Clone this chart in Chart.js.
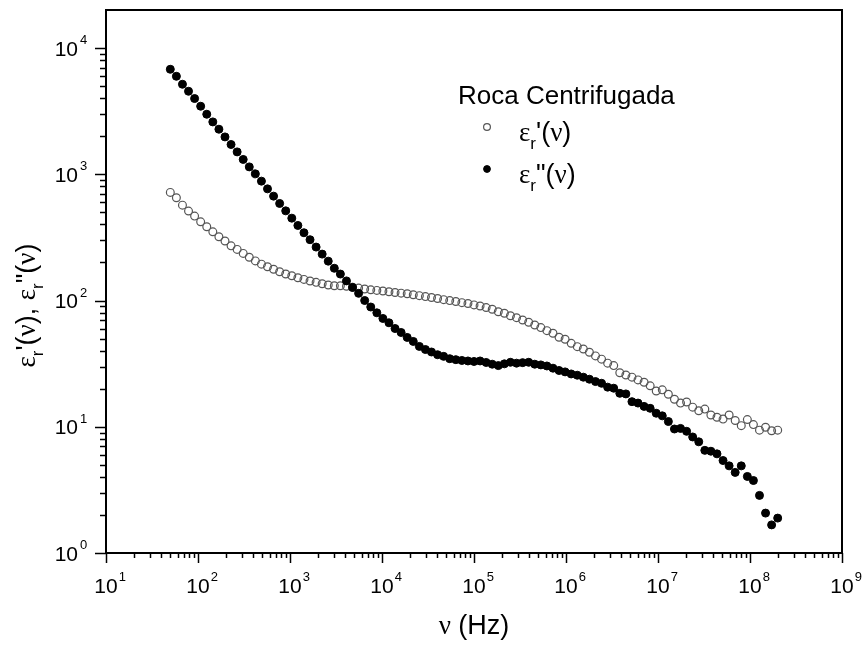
<!DOCTYPE html>
<html>
<head>
<meta charset="utf-8">
<script src="https://cdn.jsdelivr.net/npm/chart.js@4.4.1/dist/chart.umd.min.js"></script>
<style>
  html, body { margin: 0; padding: 0; background: #fff; }
</style>
</head>
<body>
<canvas id="myChart" width="862" height="645"></canvas>
<script>
var freqs = [
  50, 58.23, 67.77, 78.89, 91.84, 106.9, 124.5, 144.9, 168.7, 196.5,
  228.7, 266.3, 310.0, 360.9, 420.2, 489.2, 569.5, 663.0, 771.9, 898.7,
  1046, 1218, 1418, 1651, 1922, 2237, 2604, 3032, 3529, 4109,
  4784, 5569, 6484, 7548, 8788, 10226, 11905, 13861, 16137, 18787,
  21872, 25465, 29646, 34515, 40184, 46783, 54466, 63410, 73823, 85947,
  1.000e5, 1.164e5, 1.355e5, 1.578e5, 1.837e5, 2.139e5, 2.490e5, 2.899e5, 3.375e5, 3.929e5,
  4.574e5, 5.326e5, 6.200e5, 7.218e5, 8.403e5, 9.779e5, 1.139e6, 1.326e6, 1.543e6, 1.797e6,
  2.092e6, 2.435e6, 2.835e6, 3.301e6, 3.843e6, 4.474e6, 5.209e6, 6.064e6, 7.060e6, 8.220e6,
  9.564e6, 1.113e7, 1.296e7, 1.509e7, 1.757e7, 2.046e7, 2.381e7, 2.773e7, 3.228e7, 3.758e7,
  4.375e7, 5.094e7, 5.930e7, 6.904e7, 8.038e7, 9.358e7, 1.089e8, 1.268e8, 1.476e8, 1.718e8, 2.0e8
];

// eps_r' (open circles)
var epsReal = [
  718, 651, 569, 511, 466, 420, 384, 350, 320, 296,
  271, 254, 236, 220, 206, 194, 185, 177, 169, 162,
  157, 151.5, 147, 142.7, 139.3, 135.8, 132.7, 131, 130.7, 129.8,
  127.4, 125.4, 123.3, 121.5, 120.2, 118.9, 117.4, 115.7, 114.4, 113.0,
  111.1, 109.3, 107.4, 105.6, 103.7, 101.6, 99.8, 98.2, 96.2, 94.7,
  92.3, 90.4, 87.9, 85.2, 81.5, 79.2, 75.8, 73.1, 70.1, 67.3,
  64.0, 61.0, 57.7, 55.0, 51.2, 49.3, 45.8, 43.1, 41.3, 38.9,
  36.4, 34.3, 31.9, 30.5, 26.8, 25.7, 24.7, 23.5, 22.5, 21.1,
  19.2, 19.6, 18.1, 16.5, 15.4, 15.7, 14.3, 13.4, 13.8, 12.4,
  11.9, 11.5, 12.4, 11.2, 10.2, 11.4, 10.4, 9.4, 9.9, 9.3, 9.4
];

// eps_r'' (filled circles)
var epsImag = [
  6785, 5970, 5162, 4544, 3979, 3458, 2989, 2598, 2274, 1976,
  1721, 1504, 1310, 1144, 1007, 882, 766, 671, 587, 513,
  449, 393, 344, 303, 265, 233, 205, 180, 162, 143,
  127, 114, 100, 88.8, 79.9, 72.1, 66.6, 60.0, 55.8, 51.0,
  47.4, 43.3, 40.9, 39.1, 37.2, 36.1, 34.6, 34.0, 33.5, 33.2,
  32.9, 33.2, 32.3, 31.3, 30.5, 31.5, 32.4, 31.9, 32.2, 32.4,
  31.3, 30.9, 30.3, 29.1, 27.9, 27.2, 26.2, 25.6, 24.7, 23.8,
  22.8, 22.1, 20.6, 20.2, 18.4, 18.2, 15.8, 15.4, 14.5, 14.0,
  12.8, 12.2, 11.0, 9.6, 9.7, 9.2, 8.3, 7.6, 6.5, 6.4,
  6.1, 5.4, 4.9, 4.35, 4.9, 4.04, 3.75, 2.86, 2.07, 1.67, 1.89
];

var xDecades = [1, 2, 3, 4, 5, 6, 7, 8, 9];   // 10^1 .. 10^9
var yDecades = [0, 1, 2, 3, 4];               // 10^0 .. 10^4
var legendTitle = 'Roca Centrifugada';
var xTitle = ' (Hz)';

var SANS = '"Liberation Sans", Arial, sans-serif';
var GREEK = '"Liberation Serif", "Times New Roman", serif';

function decadeTicks(decs, max) {
  var t = [];
  decs.forEach(function (e) {
    var base = Math.pow(10, e);
    t.push({ value: base, major: true, exp: e });
    for (var m = 2; m <= 9; m++) {
      if (m * base < max) t.push({ value: m * base, major: false });
    }
  });
  return t;
}

// draw a run of text pieces (for subscripts / greek) centred on x
function richText(ctx, parts, x, y, align) {
  var total = 0;
  parts.forEach(function (p) { ctx.font = p.f; p.w = ctx.measureText(p.t).width; total += p.w; });
  var cx = align === 'left' ? x : x - total / 2;
  ctx.textAlign = 'left';
  ctx.textBaseline = 'alphabetic';
  parts.forEach(function (p) {
    ctx.font = p.f;
    ctx.fillText(p.t, cx, y + (p.dy || 0));
    cx += p.w;
  });
}

function epsLabel(primes, size) {
  return [
    { t: '\u03b5', f: size + 'px ' + GREEK },
    { t: 'r', f: Math.round(size * 0.62) + 'px ' + SANS, dy: Math.round(size * 0.28) },
    { t: primes + '(', f: size + 'px ' + SANS },
    { t: '\u03bd', f: size + 'px ' + GREEK },
    { t: ')', f: size + 'px ' + SANS }
  ];
}

var axesPlugin = {
  id: 'axesPlugin',
  afterDraw: function (chart) {
    var ctx = chart.ctx, a = chart.chartArea;
    var xs = chart.scales.x, ys = chart.scales.y;
    ctx.save();
    ctx.fillStyle = '#000';
    ctx.strokeStyle = '#000';

    // frame
    ctx.lineWidth = 2;
    ctx.strokeRect(a.left, a.top, a.right - a.left, a.bottom - a.top);

    // tick marks
    ctx.lineWidth = 1.5;
    xs.ticks.forEach(function (t) {
      var px = Math.round(xs.getPixelForValue(t.value)) + 0.5;
      ctx.beginPath();
      ctx.moveTo(px, a.bottom);
      ctx.lineTo(px, a.bottom + (t.major ? 10 : 5));
      ctx.stroke();
    });
    ys.ticks.forEach(function (t) {
      var py = Math.round(ys.getPixelForValue(t.value)) + 0.5;
      ctx.beginPath();
      ctx.moveTo(a.left, py);
      ctx.lineTo(a.left - (t.major ? 11 : 6), py);
      ctx.stroke();
    });

    // tick labels 10^n
    xs.ticks.forEach(function (t) {
      if (!t.major) return;
      var px = xs.getPixelForValue(t.value);
      ctx.font = '21px ' + SANS;
      var w = ctx.measureText('10').width;
      ctx.textAlign = 'left';
      ctx.textBaseline = 'alphabetic';
      ctx.fillText('10', px - w / 2, a.bottom + 40);
      ctx.font = '13px ' + SANS;
      ctx.fillText(String(t.exp), px + w / 2 + 1, a.bottom + 28);
    });
    ys.ticks.forEach(function (t) {
      if (!t.major) return;
      var py = ys.getPixelForValue(t.value);
      ctx.font = '21px ' + SANS;
      var w = ctx.measureText('10').width;
      ctx.textAlign = 'left';
      ctx.textBaseline = 'alphabetic';
      ctx.fillText('10', 78 - w, py + 7.5);
      ctx.font = '13px ' + SANS;
      ctx.fillText(String(t.exp), 80, py - 4);
    });

    // x title
    richText(ctx, [
      { t: '\u03bd', f: '27px ' + GREEK },
      { t: xTitle, f: '27px ' + SANS }
    ], (a.left + a.right) / 2, 634);

    // y title (rotated)
    ctx.save();
    ctx.translate(35, (a.top + a.bottom) / 2 + 24);
    ctx.rotate(-Math.PI / 2);
    var yParts = epsLabel("'", 27).concat([{ t: ', ', f: '27px ' + SANS }]).concat(epsLabel('"', 27));
    richText(ctx, yParts, 0, 0);
    ctx.restore();

    // legend
    ctx.font = '26px ' + SANS;
    ctx.textAlign = 'left';
    ctx.fillText(legendTitle, 458, 104);
    var ds = chart.data.datasets;
    [[ds[0], 127, "'"], [ds[1], 169, '"']].forEach(function (row) {
      var d = row[0];
      ctx.beginPath();
      ctx.arc(487, row[1], 3.4, 0, Math.PI * 2);
      if (d.pointBackgroundColor !== 'rgba(0,0,0,0)') { ctx.fillStyle = d.pointBackgroundColor; ctx.fill(); }
      ctx.lineWidth = d.pointBorderWidth;
      ctx.strokeStyle = d.pointBorderColor;
      ctx.stroke();
      ctx.fillStyle = '#000';
      richText(ctx, epsLabel(row[2], 27), 519, row[1] + 14, 'left');
    });

    ctx.restore();
  }
};

var config = {
  type: 'scatter',
  data: {
    datasets: [{
      label: "eps_r'",
      data: freqs.map(function (f, i) { return { x: f, y: epsReal[i] }; }),
      pointRadius: 3.9,
      pointBackgroundColor: 'rgba(0,0,0,0)',
      pointBorderColor: '#555',
      pointBorderWidth: 1.2,
      order: 1
    }, {
      label: "eps_r''",
      data: freqs.map(function (f, i) { return { x: f, y: epsImag[i] }; }),
      pointRadius: 4,
      pointBackgroundColor: '#000',
      pointBorderColor: '#000',
      pointBorderWidth: 1,
      order: 0
    }]
  },
  options: {
    responsive: false,
    animation: false,
    layout: { padding: { left: 0, right: 20, top: 10, bottom: 0 } },
    plugins: { legend: { display: false }, tooltip: { enabled: false } },
    scales: {
      x: {
        type: 'logarithmic', min: 10, max: 1e9,
        grid: { display: false }, border: { display: false },
        ticks: { display: false },
        afterBuildTicks: function (s) { s.ticks = decadeTicks(xDecades, 1e9); },
        afterFit: function (s) { s.height = 92; }
      },
      y: {
        type: 'logarithmic', min: 1, max: 20000,
        grid: { display: false }, border: { display: false },
        ticks: { display: false },
        afterBuildTicks: function (s) { s.ticks = decadeTicks(yDecades, 20000); },
        afterFit: function (s) { s.width = 106; }
      }
    }
  },
  plugins: [axesPlugin]
};

var myChart = new Chart(document.getElementById('myChart'), config);
</script>
</body>
</html>
